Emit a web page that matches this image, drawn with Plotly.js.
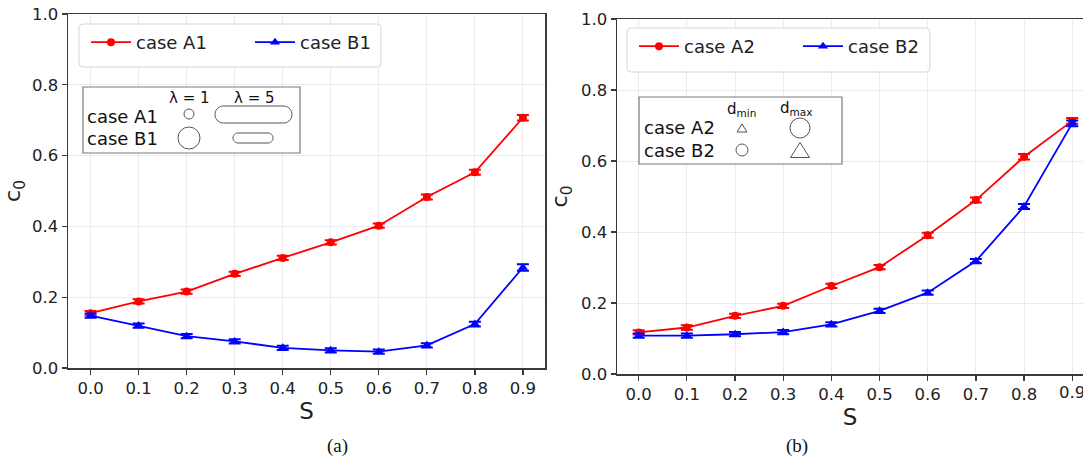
<!DOCTYPE html>
<html>
<head>
<meta charset="utf-8">
<script src="https://cdn.plot.ly/plotly-3.0.1.min.js"></script>
<style>html,body{margin:0;padding:0;background:#fff;}#chart{width:1083px;height:460px;}</style>
</head>
<body>
<div id="chart"></div>
<script>
// ---- data ----
const S = [0.0, 0.1, 0.2, 0.3, 0.4, 0.5, 0.6, 0.7, 0.8, 0.9];
const caseA1 = [0.155, 0.188, 0.216, 0.266, 0.311, 0.355, 0.402, 0.483, 0.553, 0.707];
const caseA1err = [0.006, 0.006, 0.006, 0.006, 0.006, 0.006, 0.006, 0.007, 0.007, 0.008];
const caseB1 = [0.148, 0.120, 0.090, 0.075, 0.057, 0.050, 0.046, 0.064, 0.124, 0.284];
const caseB1err = [0.006, 0.006, 0.006, 0.006, 0.006, 0.006, 0.006, 0.006, 0.007, 0.009];
const caseA2 = [0.117, 0.131, 0.164, 0.192, 0.248, 0.301, 0.391, 0.490, 0.612, 0.713];
const caseA2err = [0.006, 0.006, 0.006, 0.006, 0.006, 0.006, 0.007, 0.007, 0.008, 0.008];
const caseB2 = [0.108, 0.108, 0.112, 0.118, 0.140, 0.178, 0.229, 0.318, 0.472, 0.706];
const caseB2err = [0.006, 0.006, 0.006, 0.006, 0.006, 0.006, 0.006, 0.006, 0.007, 0.008];
const xTicks = [0.0, 0.1, 0.2, 0.3, 0.4, 0.5, 0.6, 0.7, 0.8, 0.9];
const xTickText = ["0.0", "0.1", "0.2", "0.3", "0.4", "0.5", "0.6", "0.7", "0.8", "0.9"];
const yTicks = [0.0, 0.2, 0.4, 0.6, 0.8, 1.0];
const yTickText = ["0.0", "0.2", "0.4", "0.6", "0.8", "1.0"];

const W = 1083, H = 460;
const PX = x => x / W, PY = y => 1 - y / H;
const RED = '#ff0000', BLUE = '#0000ff';
const FONT = 'DejaVu Sans, sans-serif';

function tr(name, y, err, color, sym, xa, ya, leg) {
  return {
    x: S, y: y, name: name, type: 'scatter', mode: 'lines+markers',
    xaxis: xa, yaxis: ya, legend: leg,
    line: {color: color, width: 1.8},
    marker: {color: color, symbol: sym, size: sym === 'circle' ? 8 : 9},
    error_y: {type: 'data', array: err, visible: true, color: color, thickness: 2, width: 6}
  };
}

const data = [
  tr('case A1', caseA1, caseA1err, RED, 'circle', 'x', 'y', 'legend'),
  tr('case B1', caseB1, caseB1err, BLUE, 'triangle-up', 'x', 'y', 'legend'),
  tr('case A2', caseA2, caseA2err, RED, 'circle', 'x2', 'y2', 'legend2'),
  tr('case B2', caseB2, caseB2err, BLUE, 'triangle-up', 'x2', 'y2', 'legend2')
];

const TICKFONT = {family: FONT, size: 16.5, color: '#222'};
const axBase = {
  showline: true, linecolor: '#3a3a3a', linewidth: 1.5,
  ticks: 'outside', ticklen: 5, tickwidth: 1.3, tickcolor: '#3a3a3a',
  showgrid: true, gridcolor: '#ebebeb', gridwidth: 1,
  zeroline: false, tickfont: TICKFONT,
  automargin: false
};

const legBase = {
  xanchor: 'left', yanchor: 'top', orientation: 'h',
  bgcolor: 'rgba(0,0,0,0)', bordercolor: 'rgba(0,0,0,0)', borderwidth: 0,
  font: {family: FONT, size: 18, color: '#222'},
  entrywidth: 109, entrywidthmode: 'pixels', itemwidth: 40
};

const layout = {
  width: W, height: H,
  margin: {l: 0, r: 0, t: 0, b: 0},
  paper_bgcolor: '#fff', plot_bgcolor: '#fff',
  font: {family: FONT, color: '#222'},
  showlegend: true,
  xaxis: Object.assign({}, axBase, {
    domain: [PX(68), PX(545)], range: [-0.047, 0.946], mirror: true,
    tickvals: xTicks, ticktext: xTickText, anchor: 'y',
    title: {text: 'S', font: {family: FONT, size: 23, color: '#222'}, standoff: 5}
  }),
  yaxis: Object.assign({}, axBase, {
    domain: [PY(368), PY(14)], range: [0, 1], mirror: true,
    tickvals: yTicks, ticktext: yTickText, anchor: 'x',
    title: {text: 'c<sub>0</sub>', font: {family: FONT, size: 22, color: '#222'}, standoff: 7}
  }),
  xaxis2: Object.assign({}, axBase, {
    domain: [PX(617), 1], range: [-0.045, 0.9224], mirror: true,
    tickvals: xTicks, ticktext: xTickText, anchor: 'y2',
    title: {text: 'S', font: {family: FONT, size: 23, color: '#222'}, standoff: 4}
  }),
  yaxis2: Object.assign({}, axBase, {
    domain: [PY(374), PY(19)], range: [0, 1], mirror: false,
    tickvals: yTicks, ticktext: yTickText, anchor: 'x2',
    title: {text: 'c<sub>0</sub>', font: {family: FONT, size: 22, color: '#222'}, standoff: 7}
  }),
  legend: Object.assign({}, legBase, {x: PX(86), y: PY(24)}),
  legend2: Object.assign({}, legBase, {x: PX(634), y: PY(28)}),
  shapes: [],
  annotations: []
};

const sh = layout.shapes, an = layout.annotations;

// rounded legend frames (drawn below the legends)
function roundRect(x0, y0, x1, y1, r) {
  const p = `M${PX(x0 + r)},${PY(y0)} L${PX(x1 - r)},${PY(y0)} Q${PX(x1)},${PY(y0)} ${PX(x1)},${PY(y0 + r)} ` +
    `L${PX(x1)},${PY(y1 - r)} Q${PX(x1)},${PY(y1)} ${PX(x1 - r)},${PY(y1)} ` +
    `L${PX(x0 + r)},${PY(y1)} Q${PX(x0)},${PY(y1)} ${PX(x0)},${PY(y1 - r)} ` +
    `L${PX(x0)},${PY(y0 + r)} Q${PX(x0)},${PY(y0)} ${PX(x0 + r)},${PY(y0)} Z`;
  sh.push({type: 'path', xref: 'paper', yref: 'paper', path: p,
    line: {color: '#d6d6d6', width: 1}, fillcolor: 'rgba(255,255,255,0.85)', layer: 'above'});
}
roundRect(79, 24, 381, 67, 4);
roundRect(627, 28, 930, 72, 4);

// ---- inset schematic boxes (paper coordinates) ----
function rect(x0, y0, x1, y1, col) {
  sh.push({type: 'rect', xref: 'paper', yref: 'paper', x0: PX(x0), x1: PX(x1), y0: PY(y1), y1: PY(y0),
    line: {color: col || '#7a7a7a', width: 1.2}, fillcolor: '#fff', layer: 'above'});
}
function circ(cx, cy, r) {
  sh.push({type: 'circle', xref: 'paper', yref: 'paper', x0: PX(cx - r), x1: PX(cx + r), y0: PY(cy + r), y1: PY(cy - r),
    line: {color: '#555', width: 1}, fillcolor: 'rgba(0,0,0,0)', layer: 'above'});
}
function arcPath(cx, cy, r, a0, a1) {
  let s = '';
  for (let a = a0; a <= a1; a += 10) {
    const t = a * Math.PI / 180;
    s += ` L${PX(cx + r * Math.cos(t))},${PY(cy + r * Math.sin(t))}`;
  }
  return s;
}
function pill(x0, y0, x1, y1) {
  const r = (y1 - y0) / 2;
  const p = `M${PX(x0 + r)},${PY(y0)} L${PX(x1 - r)},${PY(y0)} ` +
    arcPath(x1 - r, (y0 + y1) / 2, r, -90, 90) +
    ` L${PX(x0 + r)},${PY(y1)} ` + arcPath(x0 + r, (y0 + y1) / 2, r, 90, 270) + ' Z';
  sh.push({type: 'path', xref: 'paper', yref: 'paper', path: p, line: {color: '#555', width: 1}, layer: 'above'});
}
function tri(cx, cy, w, h) {
  const p = `M${PX(cx - w / 2)},${PY(cy + h / 2)} L${PX(cx + w / 2)},${PY(cy + h / 2)} L${PX(cx)},${PY(cy - h / 2)} Z`;
  sh.push({type: 'path', xref: 'paper', yref: 'paper', path: p, line: {color: '#555', width: 1}, layer: 'above'});
}
function txt(t, x, y, size, anchor) {
  an.push({text: t, xref: 'paper', yref: 'paper', x: PX(x), y: PY(y), showarrow: false,
    xanchor: anchor || 'left', yanchor: 'middle', font: {family: FONT, size: size || 18, color: '#111'}});
}

// left inset
rect(83, 87, 300, 153);
txt('λ = 1', 189, 98, 15, 'center');
txt('λ = 5', 254, 98, 15, 'center');
txt('case A1', 85, 116, 18);
txt('case B1', 85, 138, 18);
circ(189, 114, 5);
circ(189, 138, 11);
pill(215, 106, 292, 123);
pill(233, 133, 273, 143);

// right inset
rect(639, 97, 842, 164);
txt('d<sub>min</sub>', 741, 110, 15, 'center');
txt('d<sub>max</sub>', 796, 109, 15, 'center');
txt('case A2', 642, 127, 18);
txt('case B2', 642, 150, 18);
tri(742, 128, 10, 8);
circ(800, 128, 10);
circ(742, 150, 6);
tri(800, 150, 19, 15);

// last tick label of panel (b), cut by the page edge as in the original figure
an.push({text: xTickText[9], xref: 'x2', yref: 'paper', x: xTicks[9], y: PY(392), showarrow: false,
  xanchor: 'center', yanchor: 'middle', font: TICKFONT});

// captions
an.push({text: '(a)', xref: 'paper', yref: 'paper', x: PX(337), y: PY(446), showarrow: false,
  xanchor: 'center', yanchor: 'middle', font: {family: 'Liberation Serif, serif', size: 19, color: '#111'}});
an.push({text: '(b)', xref: 'paper', yref: 'paper', x: PX(797), y: PY(446), showarrow: false,
  xanchor: 'center', yanchor: 'middle', font: {family: 'Liberation Serif, serif', size: 19, color: '#111'}});

Plotly.newPlot('chart', data, layout, {displayModeBar: false, staticPlot: true});
</script>
</body>
</html>
